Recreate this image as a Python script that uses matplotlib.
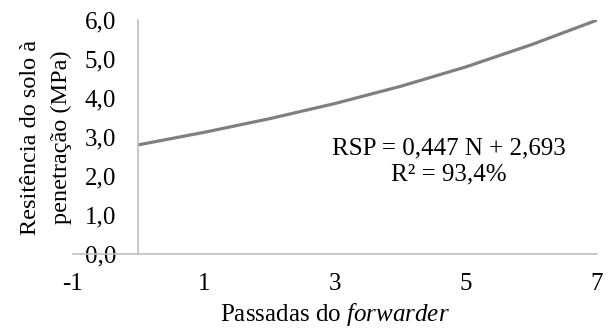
import numpy as np
import matplotlib
matplotlib.use("Agg")
import matplotlib.pyplot as plt

# curve (passadas vs RSP)
passadas = [0, 1, 2, 3, 4, 5, 6, 7]
rsp = [2.80, 3.12, 3.47, 3.86, 4.30, 4.80, 5.37, 6.00]

x_ticks = [-1, 1, 3, 5, 7]
y_ticks = [0, 1, 2, 3, 4, 5, 6]

plt.rcParams['font.family'] = 'Liberation Serif'
plt.rcParams['mathtext.fontset'] = 'custom'
plt.rcParams['mathtext.rm'] = 'Liberation Serif'
plt.rcParams['mathtext.it'] = 'Liberation Serif:italic'
plt.rcParams['axes.unicode_minus'] = False

FS = 18

fig = plt.figure(figsize=(6.08, 3.29), dpi=100)
ax = fig.add_axes([0.12, 0.228, 0.862, 0.711])

ax.plot(passadas, rsp, color='#808080', lw=2.3, solid_capstyle='butt')

ax.set_xlim(-1, 7)
ax.set_ylim(0, 6)
ax.set_xticks(x_ticks)
ax.set_yticks(y_ticks)
ax.set_yticklabels([('%.1f' % v).replace('.', ',') for v in y_ticks])

ax.spines['top'].set_visible(False)
ax.spines['right'].set_visible(False)
ax.spines['left'].set_position(('data', 0))
for s in ('left', 'bottom'):
    ax.spines[s].set_color('#bfbfbf')
    ax.spines[s].set_linewidth(1.2)

ax.tick_params(axis='both', length=0, labelsize=FS, colors='black')
ax.tick_params(axis='x', pad=14)
ax.tick_params(axis='y', pad=16)

ax.set_xlabel('Passadas do $\\mathit{forwarder}$', fontsize=FS)
ax.xaxis.set_label_coords(0.5, -0.2)
ax.set_ylabel('Resitência do solo à\npenetração (MPa)', fontsize=17.5,
              linespacing=1.6, va='center')
ax.yaxis.set_label_coords(-0.052, 0.5)

ax.text(4.74, 2.37, 'RSP = 0,447 N + 2,693\nR² = 93,4%', ha='center', va='center',
        fontsize=FS, linespacing=1.22)

fig.savefig('out.png', dpi=100)
